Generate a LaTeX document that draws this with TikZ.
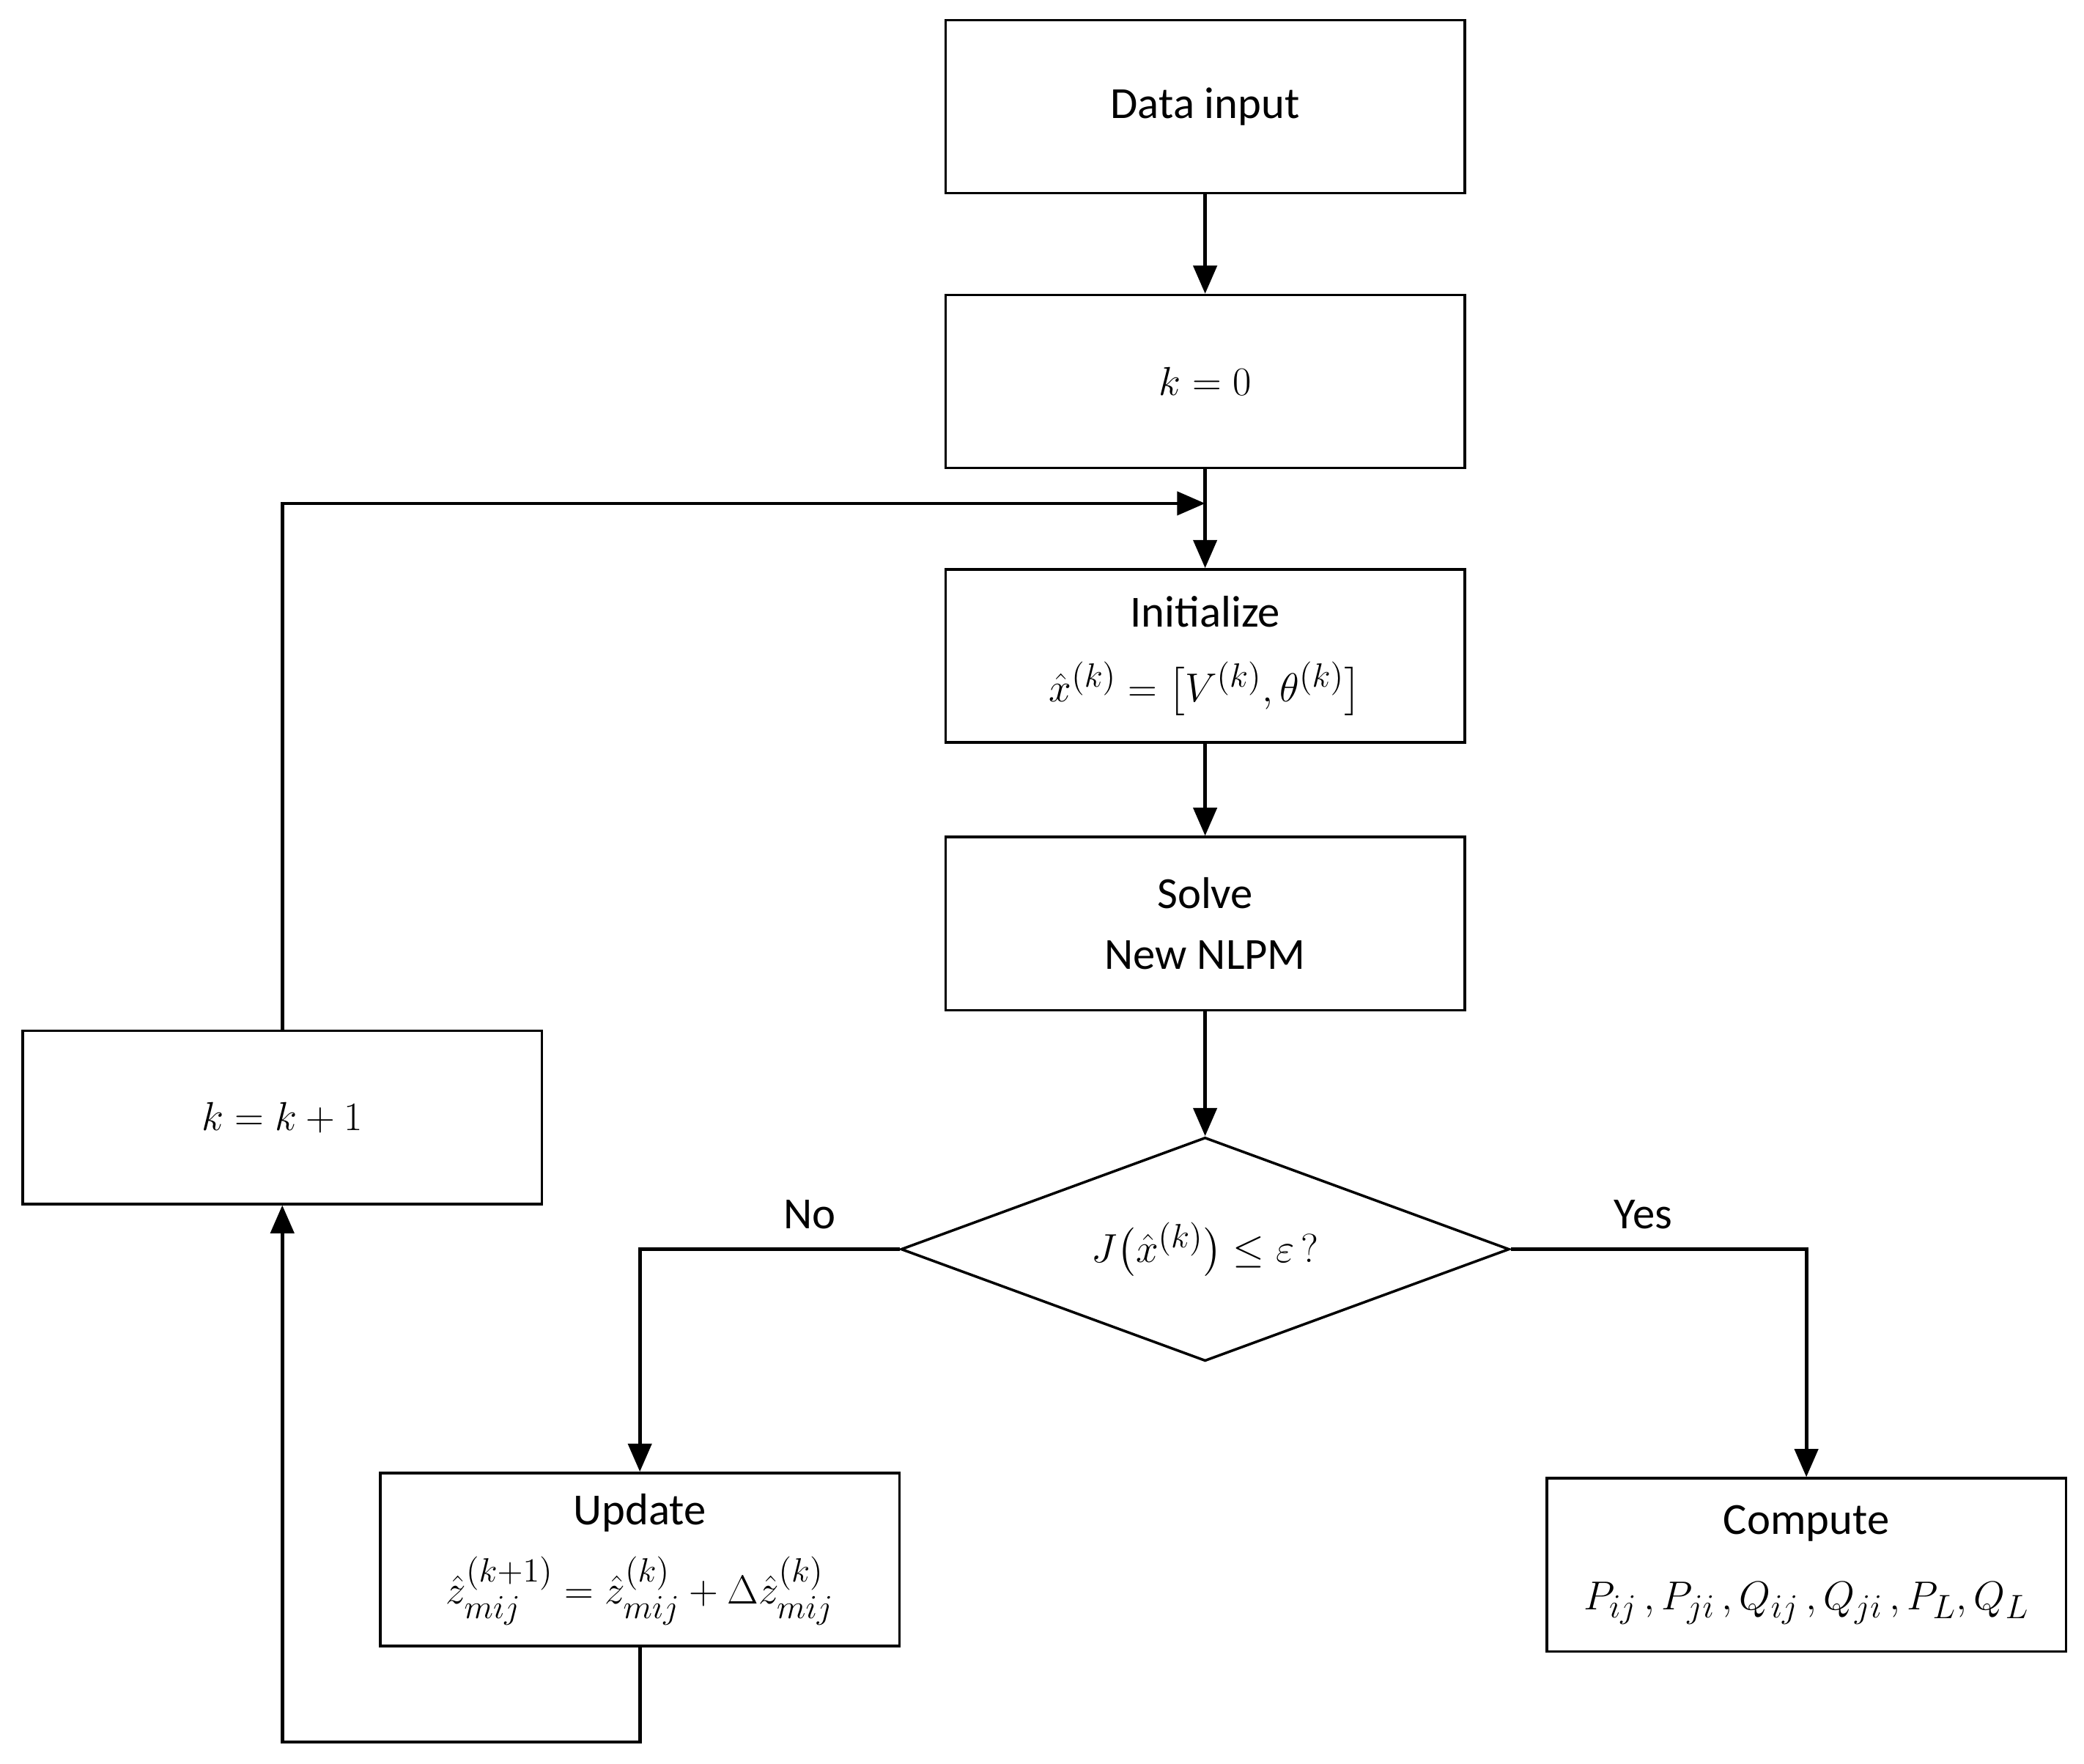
\documentclass[tikz,border=0pt]{standalone}
\usepackage{fontspec}
\setmainfont{Carlito}
\usepackage{amsmath}
\usetikzlibrary{arrows.meta,shapes.geometric}
\begin{document}
\begin{tikzpicture}[x=0.02cm,y=-0.02cm,
  box/.style={draw,line width=1.1pt,minimum width=7.8cm,minimum height=2.6cm,align=center,inner sep=2pt,font=\fontsize{19}{26}\selectfont},
  ln/.style={line width=1.5pt},
  ar/.style={ln,-{Triangle[length=12pt,width=10pt]}},
  lab/.style={font=\fontsize{19}{23}\selectfont}]
\useasboundingbox (0,0) rectangle (1565,1324);
\node[box] (data) at (905,80) {Data input};
\node[box] (k0) at (905,286.5) {$k=0$};
\node[box] (init) at (905,492.5) {Initialize\\[6pt] $\hat{x}^{(k)}=\bigl[V^{(k)},\theta^{(k)}\bigr]$};
\node[box] (solve) at (905,693.5) {Solve\\New NLPM};
\node[draw,line width=1.1pt,diamond,aspect=2.72,minimum width=9.14cm,minimum height=3.36cm,inner sep=0pt] (dec) at (905,938) {};
\node[lab] (dect) at (dec.center) {$J\bigl(\hat{x}^{(k)}\bigr)\le\varepsilon\,?$};
\node[box] (kk) at (212,839) {$k=k+1$};
\node[box] (upd) at (480.5,1171) {Update\\[8pt] $\hat{z}_{mij}^{(k+1)}=\hat{z}_{mij}^{(k)}+\Delta\hat{z}_{mij}^{(k)}$};
\node[box] (comp) at (1356.5,1175) {Compute\\[6pt] $P_{ij}\,,P_{ji}\,,Q_{ij}\,,Q_{ji}\,,P_L,Q_L$};
\coordinate (m) at (905,378);
\draw[ar] (data) -- (k0);
\draw[ar] (k0) -- (init);
\draw[ar] (kk.north) |- (m);
\draw[ar] (init) -- (solve);
\draw[ar] (solve) -- (dec.north);
\draw[ar] (dec.west) -| (upd.north);
\draw[ar] (dec.east) -| (comp.north);
\coordinate (b) at (212,1308);
\draw[ar] (upd.south) |- (b) -- (kk.south);
\node[lab] (no) at (608,912) {No};
\node[lab] (yes) at (1234,912) {Yes};
\end{tikzpicture}
\end{document}
